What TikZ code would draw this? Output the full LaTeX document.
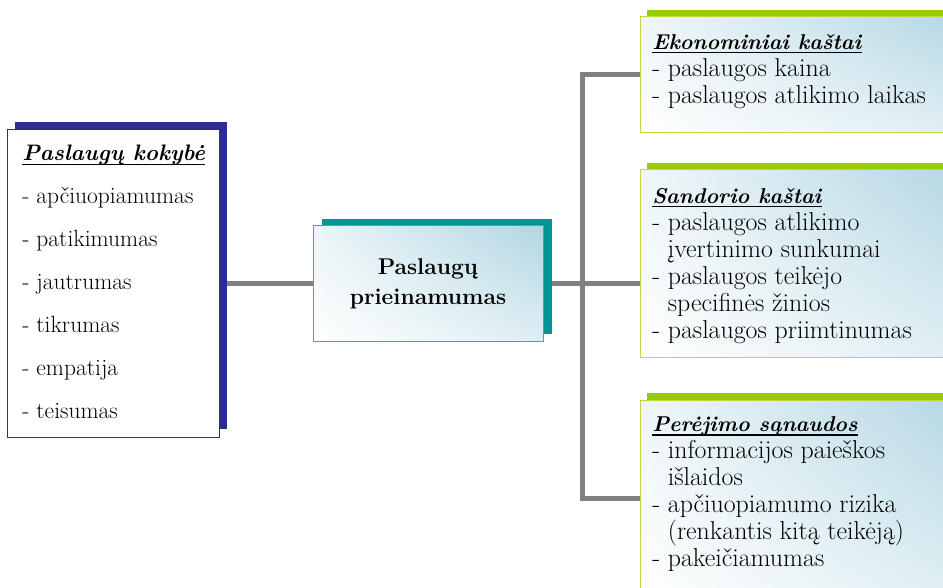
\documentclass[tikz,border=0pt]{standalone}
\usepackage{fontspec}
\usetikzlibrary{shadows,shadings,backgrounds,calc}
\definecolor{navyc}{RGB}{44,44,145}
\definecolor{tealc}{RGB}{0,150,150}
\definecolor{tealline}{RGB}{60,170,170}
\definecolor{greenc}{RGB}{153,204,0}
\definecolor{olivec}{RGB}{200,210,60}
\definecolor{connc}{RGB}{128,128,128}
\definecolor{bluefill}{RGB}{178,214,226}
\definecolor{bluelite}{RGB}{222,238,243}
\newcommand{\ttlu}[1]{\setbox0\hbox{#1}\rlap{\rule[-3pt]{\wd0}{0.9pt}}\box0}
\begin{document}
\begin{tikzpicture}[x=0.75pt,y=-0.75pt,
  conn/.style={draw=connc, line width=3.75pt},
  boxbase/.style={inner sep=0pt, outer sep=0pt, anchor=north west},
  leftbox/.style={boxbase, draw=navyc, line width=0.75pt, fill=white,
    minimum width=159pt, minimum height=230.25pt,
    general shadow={fill=navyc, shadow xshift=6pt, shadow yshift=6pt}},
  midbox/.style={boxbase, anchor=center, draw=tealline, line width=0.75pt,
    shading=bilinear interpolation, lower left=white, upper left=bluelite!60!white,
    lower right=bluelite, upper right=bluefill,
    minimum width=172.5pt, minimum height=86.25pt, align=center,
    font=\fontsize{17.1}{22.5}\selectfont\bfseries,
    general shadow={fill=tealc, shadow xshift=6.75pt, shadow yshift=5.25pt}},
  rightbox/.style={boxbase, draw=olivec, line width=0.75pt,
    shading=bilinear interpolation, lower left=white, upper left=bluelite!50!white,
    lower right=bluelite, upper right=bluefill,
    minimum width=247.5pt,
    general shadow={fill=greenc, shadow xshift=5.25pt, shadow yshift=5.25pt}},
  lefttext/.style={inner sep=0pt, anchor=north west, align=left,
    font=\fontsize{17.6}{32.25}\selectfont},
  righttext/.style={inner sep=0pt, anchor=north west, align=left,
    font=\fontsize{19.4}{20.25}\selectfont}
]
\useasboundingbox (0,0) rectangle (943,588);
\clip (0,0) rectangle (943,588);

% boxes
\node[leftbox] (lbox) at (7,130) {};
\node[midbox] (cbox) at (428,283.5) {Paslaugų\\prieinamumas};
\node[rightbox, minimum height=87pt] (rtop) at (640,17) {};
\node[rightbox, minimum height=140.25pt] (rmid) at (640,170) {};
\node[rightbox, minimum height=147pt] (rbot) at (640,400) {};

% texts
\node[lefttext] (ltext) at ($(lbox.north west)+(15,15)$)
  {{\fontsize{16.8}{32.25}\selectfont\ttlu{\textbf{\textit{Paslaugų kokybė}}}}\\
   - apčiuopiamumas\\
   - patikimumas\\
   - jautrumas\\
   - tikrumas\\
   - empatija\\
   - teisumas};
\node[righttext] (ttop) at ($(rtop.north west)+(12,17)$)
  {{\fontsize{16.1}{20.25}\selectfont\ttlu{\textbf{\textit{Ekonominiai kaštai}}}}\\
   - paslaugos kaina\\
   - paslaugos atlikimo laikas};
\node[righttext] (tmid) at ($(rmid.north west)+(12,18)$)
  {{\fontsize{16.1}{20.25}\selectfont\ttlu{\textbf{\textit{Sandorio kaštai}}}}\\
   - paslaugos atlikimo\\
   \hphantom{- }įvertinimo sunkumai\\
   - paslaugos teikėjo\\
   \hphantom{- }specifinės žinios\\
   - paslaugos priimtinumas};
\node[righttext] (tbot) at ($(rbot.north west)+(12,16.5)$)
  {{\fontsize{16.1}{20.25}\selectfont\ttlu{\textbf{\textit{Perėjimo sąnaudos}}}}\\
   - informacijos paieškos\\
   \hphantom{- }išlaidos\\
   - apčiuopiamumo rizika\\
   \hphantom{- }(renkantis kitą teikėją)\\
   - pakeičiamumas};

% connectors
\coordinate (trunk) at (582,283.5);
\begin{scope}[on background layer]
  \draw[conn] (lbox.east) -- (cbox.west);
  \draw[conn] (cbox.east) -- (trunk);
  \draw[conn] (rtop.west) -- (trunk |- rtop.west) -- (trunk |- rbot.west) -- (rbot.west);
  \draw[conn] (trunk) -- (trunk -| rmid.west);
\end{scope}
\end{tikzpicture}
\end{document}
